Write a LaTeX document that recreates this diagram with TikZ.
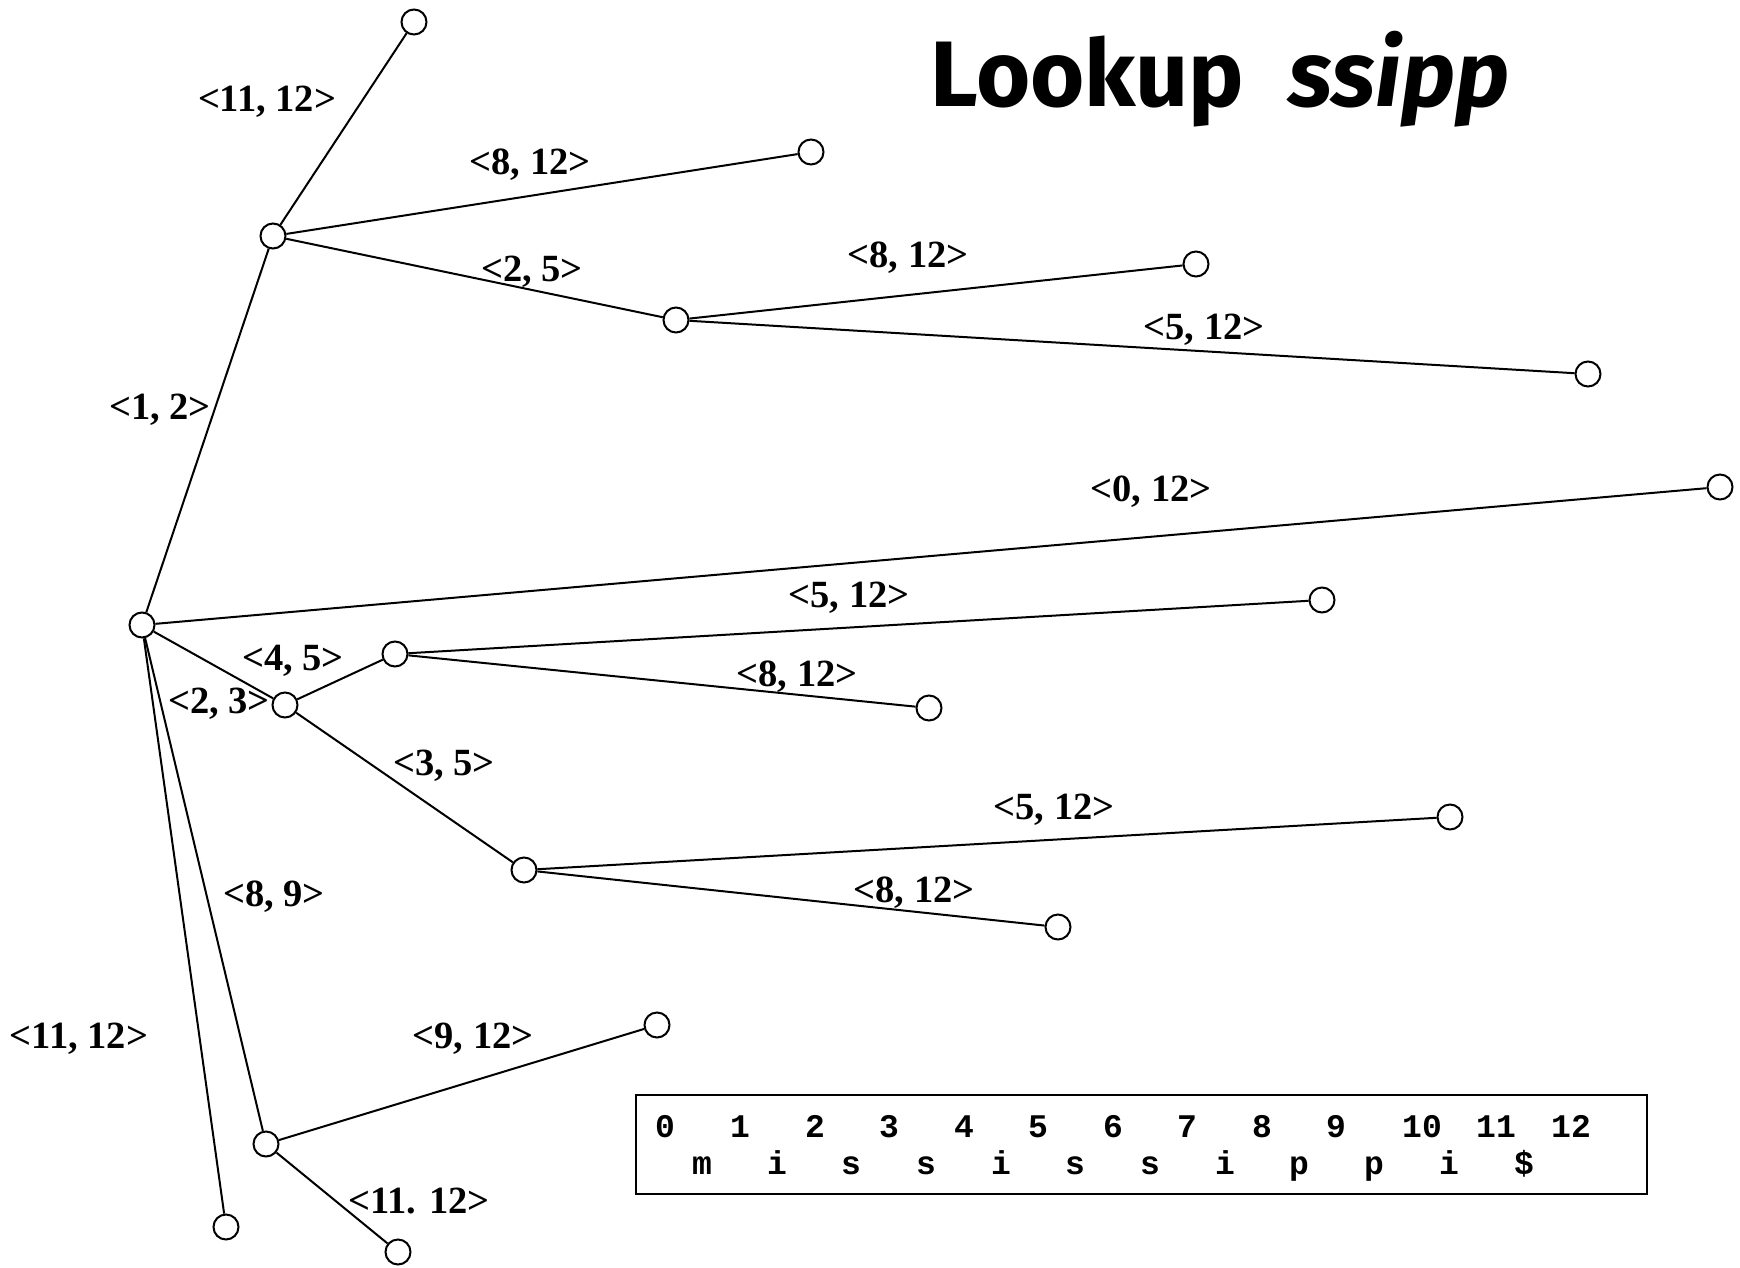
\documentclass[tikz,border=0pt]{standalone}
\usepackage{fontspec}
\newfontfamily\lblfont{Liberation Serif}
\newfontfamily\boxfont{Liberation Mono}
\newfontfamily\titlefont{Fira Sans}
\begin{document}
\begin{tikzpicture}[x=1pt,y=-1pt,
  vtx/.style={circle,draw,fill=white,line width=2pt,minimum size=25pt,inner sep=0pt},
  edge/.style={line width=2pt},
  lbl/.style={inner sep=0pt,font=\lblfont\bfseries\fontsize{38.5}{42}\selectfont},
  chr/.style={inner sep=0pt,anchor=base,font=\boxfont\bfseries\fontsize{33}{36}\selectfont}]
\useasboundingbox (0,0) rectangle (1740,1267);
% nodes
\node[vtx] (R) at (142,625) {};
\node[vtx] (A) at (273,236) {};
\node[vtx] (A1) at (414,22) {};
\node[vtx] (A2) at (811,152) {};
\node[vtx] (B) at (676,320) {};
\node[vtx] (B1) at (1196,264) {};
\node[vtx] (B2) at (1588,374) {};
\node[vtx] (C) at (1720,487) {};
\node[vtx] (D) at (285,705) {};
\node[vtx] (E) at (395,654) {};
\node[vtx] (E1) at (1322,600) {};
\node[vtx] (E2) at (929,708) {};
\node[vtx] (F) at (524,870) {};
\node[vtx] (F1) at (1450,817) {};
\node[vtx] (F2) at (1058,927) {};
\node[vtx] (G) at (266,1144) {};
\node[vtx] (G1) at (657,1025) {};
\node[vtx] (G2) at (398,1252) {};
\node[vtx] (H) at (226,1227) {};
% edges
\draw[edge] (R) -- (A);
\draw[edge] (A) -- (A1);
\draw[edge] (A) -- (A2);
\draw[edge] (A) -- (B);
\draw[edge] (B) -- (B1);
\draw[edge] (B) -- (B2);
\draw[edge] (R) -- (C);
\draw[edge] (R) -- (D);
\draw[edge] (D) -- (E);
\draw[edge] (E) -- (E1);
\draw[edge] (E) -- (E2);
\draw[edge] (D) -- (F);
\draw[edge] (F) -- (F1);
\draw[edge] (F) -- (F2);
\draw[edge] (R) -- (G);
\draw[edge] (G) -- (G1);
\draw[edge] (G) -- (G2);
\draw[edge] (R) -- (H);
% labels
\node[lbl] (l1) at (267,102) {<11, 12>};
\node[lbl] (l2) at (530,165) {<8, 12>};
\node[lbl] (l3) at (532,272) {<2, 5>};
\node[lbl] (l4) at (908,258) {<8, 12>};
\node[lbl] (l5) at (1204,330) {<5, 12>};
\node[lbl] (l6) at (160,410) {<1, 2>};
\node[lbl] (l7) at (1151,492) {<0, 12>};
\node[lbl] (l8) at (849,598) {<5, 12>};
\node[lbl] (l9) at (293,661) {<4, 5>};
\node[lbl] (l10) at (797,677) {<8, 12>};
\node[lbl] (l11) at (219,704) {<2, 3>};
\node[lbl] (l12) at (444,766) {<3, 5>};
\node[lbl] (l13) at (1054,810) {<5, 12>};
\node[lbl] (l14) at (914,893) {<8, 12>};
\node[lbl] (l15) at (274,897) {<8, 9>};
\node[lbl] (l16) at (79,1039) {<11, 12>};
\node[lbl] (l17) at (473,1039) {<9, 12>};
\node[lbl] (l18) at (419,1201) {<11. 12>};
% title
\node[inner sep=0pt,anchor=base,font=\titlefont\bfseries\fontsize{93}{100}\selectfont] (title) at (1220,106) {Lookup\ \ \textit{ssipp}};
% box
\node[draw,line width=2pt,minimum width=1011pt,minimum height=99pt,inner sep=0pt] (box) at (1141.5,1144.5) {};
\foreach \t/\x [count=\i] in {0/665,1/740,2/815,3/889,4/964,5/1038,6/1113,7/1187,8/1262,9/1336,10/1422,11/1496,12/1571}
  \node[chr] (d\i) at (\x,1137) {\t};
\foreach \t/\x [count=\i] in {m/702,i/777,s/851,s/926,i/1001,s/1075,s/1150,i/1225,p/1299,p/1374,i/1449,\$/1524}
  \node[chr] (c\i) at (\x,1174) {\t};
\end{tikzpicture}
\end{document}
